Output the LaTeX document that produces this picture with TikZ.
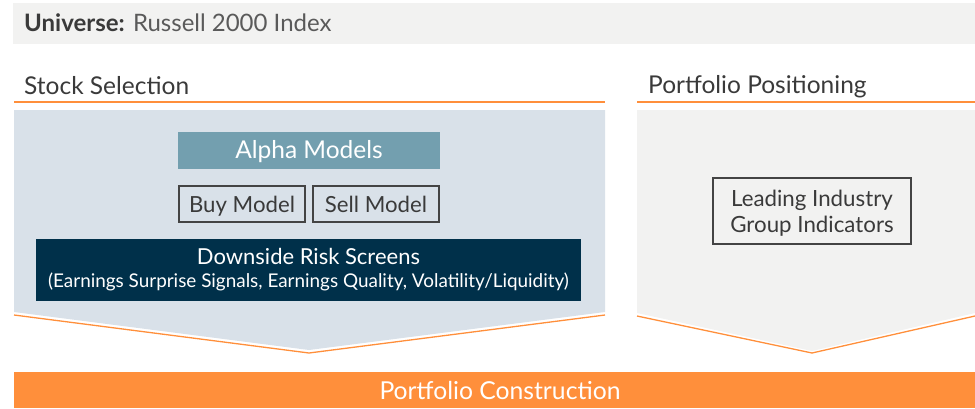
\documentclass[tikz,border=0pt]{standalone}
\usepackage{fontspec}
\setmainfont{Lato}
\definecolor{orangeC}{HTML}{FF8F3B}
\definecolor{panelC}{HTML}{D9E1E9}
\definecolor{greyC}{HTML}{F2F2F1}
\definecolor{alphaC}{HTML}{739FAF}
\definecolor{navyC}{HTML}{00304A}
\definecolor{txtC}{HTML}{3A3A3A}
\definecolor{lightTxtC}{HTML}{5A5A5A}
\definecolor{borderC}{HTML}{444444}
\tikzset{
  heading/.style={anchor=base west, inner sep=0pt, text=txtC, font=\fontsize{24.5}{28}\selectfont},
  orangeline/.style={draw=orangeC, line width=1.6pt},
  outlinebox/.style={draw=borderC, line width=1.3pt, fill=panelC, text=txtC, inner sep=0pt,
     font=\fontsize{22.2}{26}\selectfont, align=center},
  filledbox/.style={inner sep=0pt, text=white, align=center},
}
\begin{document}
\begin{tikzpicture}[x=1pt,y=-1pt]
\useasboundingbox (0,0) rectangle (975,408);
% universe bar
\fill[greyC] (13,3) rectangle (975,44);
\node[anchor=base west, inner sep=0pt, text=txtC, font=\fontsize{24}{28}\selectfont] (universe) at (24,31)
  {\textbf{Universe:} {\color{lightTxtC}Russell 2000 Index}};
% headings
\node[heading] (stocksel) at (24,94) {Stock Selection};
\node[heading] (portpos) at (648,93) {Portfolio Positioning};
\draw[orangeline] (14,102) -- (605,102);
\draw[orangeline] (637,102) -- (975,102);
% panels
\fill[panelC] (14,110) -- (605,110) -- (605,312) -- (309,350) -- (14,312) -- cycle;
\draw[draw=orangeC, line width=1.3pt] (14,315) -- (309,353) -- (605,315);
\fill[greyC] (637,110) -- (975,110) -- (975,313) -- (812,351) -- (637,313) -- cycle;
\draw[draw=orangeC, line width=1.3pt] (637,316) -- (812,353) -- (975,316);
% boxes
\node[filledbox, text height=17.6pt, text depth=0pt, fill=alphaC, minimum width=262pt, minimum height=37pt, font=\fontsize{24.5}{28}\selectfont]
  (alpha) at (309,150) {Alpha Models};
\node[outlinebox, text height=16pt, text depth=0pt, minimum width=126pt, minimum height=36pt] (buy) at (242,204) {Buy Model};
\node[outlinebox, text height=16pt, text depth=0pt, minimum width=126pt, minimum height=36pt] (sell) at (376,204) {Sell Model};
\node[filledbox, fill=navyC, minimum width=545pt, minimum height=62pt, font=\fontsize{22}{23}\selectfont] (downside) at (308.5,270)
  {Downside Risk Screens\\
   {\fontsize{18.9}{23}\selectfont (Earnings Surprise Signals, Earnings Quality, Volatility/Liquidity)}};
\node[outlinebox, text depth=0pt, fill=greyC, minimum width=198pt, minimum height=66pt, font=\fontsize{22.3}{26}\selectfont]
  (leading) at (812,211) {Leading Industry\\Group Indicators};
% bottom bar
\node[fill=orangeC, inner sep=0pt, minimum width=961pt, minimum height=36pt] (bar) at (494.5,390) {};
\node[inner sep=0pt, text height=17.8pt, text depth=0pt, text=white, font=\fontsize{24.7}{28}\selectfont] (construction) at (500,391) {Portfolio Construction};
\end{tikzpicture}
\end{document}
